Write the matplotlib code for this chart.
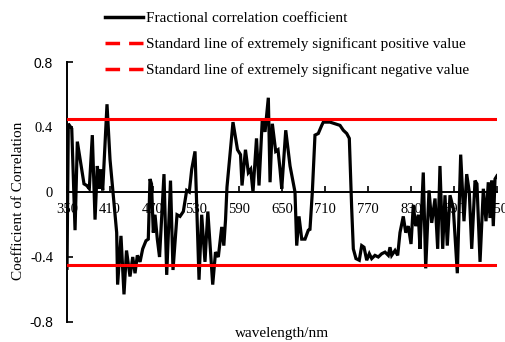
import matplotlib
matplotlib.use("Agg")
import matplotlib.pyplot as plt
from matplotlib.lines import Line2D

plt.rcParams['font.family'] = 'Liberation Serif'

# wavelength (nm) and fractional correlation coefficient
wavelength = [350, 351.8, 356.6, 361.2, 364.4, 373.7, 377.5, 381.1, 385.3, 389.1,
              392.3, 395.1, 397.0, 399.8, 405.8, 410, 414.2, 419.3, 420.6, 425.3,
              429.5, 433, 437.9, 441.7, 444.9, 448.1, 451.9, 455.6, 460.2, 463.4,
              465.8, 467.9, 470.4, 472.8, 476, 479.1, 485.3, 489.1, 494.4, 497.9,
              503.5, 507.7, 512.3, 517, 520.6, 524, 528.6, 534.2, 537.9, 542.5,
              546.5, 553.3, 557.2, 561.1, 565.9, 568.8, 571.2, 573.2, 581.6, 587.9,
              592.1, 594.2, 599, 603, 606.3, 609.5, 614.4, 617.9, 622.5, 626.3,
              630.9, 633.3, 636.5, 641.2, 644.4, 647.2, 649.6, 655.2, 661.2, 668.1,
              670.5, 673.7, 677.5, 682.1, 686.7, 689, 692.3, 696, 700.6, 705.4,
              707.6, 717, 723.9, 730.9, 735.5, 740.3, 743.9, 747.2, 749.5, 753.2,
              757.8, 761.2, 764.4, 768.2, 771.8, 775.1, 779.7, 784.3, 789.1, 793.7,
              798.3, 800.7, 803, 807.7, 811.4, 814.6, 819.2, 822.6, 826.2, 830,
              833.2, 836.5, 840.2, 842.5, 847.1, 850.5, 855.1, 858.9, 863.5, 867.2,
              870.4, 874.2, 877.4, 880.6, 884.4, 889, 894.6, 899.3, 903.9, 907.7,
              911.3, 914.7, 919.3, 922, 926.3, 930.9, 934.6, 937.8, 940.2, 942.6,
              944.8, 947.2, 950]
coef = [-0.47, 0.42, 0.39, -0.235, 0.31, 0.05, 0.04, 0.02, 0.35, -0.17,
        0.16, 0.02, 0.14, 0.01, 0.54, 0.2, 0.0, -0.25, -0.57, -0.27,
        -0.63, -0.36, -0.52, -0.40, -0.50, -0.39, -0.43, -0.35, -0.30, -0.29,
        0.08, 0.05, -0.25, -0.14, -0.29, -0.40, 0.11, -0.51, 0.07, -0.48,
        -0.14, -0.15, -0.12, 0.01, 0.0, 0.14, 0.25, -0.54, -0.14, -0.43,
        -0.12, -0.57, -0.37, -0.40, -0.215, -0.33, -0.17, 0.03, 0.43, 0.26,
        0.23, 0.04, 0.26, 0.12, 0.14, 0.0, 0.33, 0.04, 0.45, 0.37,
        0.58, 0.06, 0.42, 0.25, 0.26, 0.14, 0.02, 0.38, 0.16, 0.0,
        -0.33, -0.15, -0.29, -0.29, -0.235, -0.23, 0.0, 0.35, 0.36, 0.41,
        0.43, 0.43, 0.42, 0.41, 0.38, 0.36, 0.33, -0.10, -0.35, -0.41,
        -0.42, -0.33, -0.34, -0.42, -0.38, -0.41, -0.39, -0.40, -0.38, -0.37,
        -0.39, -0.34, -0.39, -0.36, -0.39, -0.25, -0.15, -0.25, -0.21, -0.32,
        -0.08, -0.21, -0.14, -0.35, 0.12, -0.47, 0.01, -0.19, -0.04, -0.35,
        0.16, -0.35, -0.02, -0.33, -0.02, -0.10, -0.50, 0.23, -0.18, 0.11,
        0.0, -0.35, 0.07, 0.05, -0.43, 0.02, -0.18, 0.06, -0.16, 0.07,
        -0.21, 0.08, 0.10]

# standard lines (extremely significant)
pos_line = 0.447
neg_line = -0.447

xticks = [350, 410, 470, 530, 590, 650, 710, 770, 830, 890, 950]
yticks = [-0.8, -0.4, 0, 0.4, 0.8]
ytick_labels = ['-0.8', '-0.4', '0', '0.4', '0.8']

fig = plt.figure(figsize=(5.05, 3.42), dpi=100)
ax = fig.add_axes([0.1327, 0.0585, 0.8515, 0.7602])

ax.plot([350, 950], [pos_line, pos_line], color='#ff0000', lw=2.2, zorder=3)
ax.plot([350, 950], [neg_line, neg_line], color='#ff0000', lw=2.2, zorder=3)
ax.plot(wavelength, coef, color='black', lw=2.3, solid_joinstyle='miter', zorder=2)

ax.set_xlim(350, 950)
ax.set_ylim(-0.8, 0.8)

# axes like the excel original
ax.spines['top'].set_visible(False)
ax.spines['right'].set_visible(False)
ax.spines['bottom'].set_position(('data', 0))
ax.spines['left'].set_linewidth(1.4)
ax.spines['bottom'].set_linewidth(1.4)

ax.set_xticks(xticks)
ax.set_xticklabels([str(t) for t in xticks])
ax.set_yticks(yticks)
ax.set_yticklabels(ytick_labels)
ax.tick_params(axis='x', direction='in', length=4, width=1.2, pad=8, labelsize=10.5)
ax.tick_params(axis='y', direction='in', length=4, width=1.2, pad=10, labelsize=10.5)
for lab in ax.get_yticklabels():
    if lab.get_text() in ('0.8', '-0.8'):
        lab.set_fontfamily('Liberation Sans')
        lab.set_fontsize(10)

fig.text(0.036, 0.412, 'Coefficient of Correlation', rotation=90,
         ha='center', va='center', fontsize=11)
fig.text(0.558, 0.026, 'wavelength/nm', ha='center', va='center', fontsize=11)

handles = [Line2D([], [], color='black', lw=2.5),
           Line2D([], [], color='#ff0000', lw=2.5, dashes=(4.2, 2.6)),
           Line2D([], [], color='#ff0000', lw=2.5, dashes=(4.2, 2.6))]
labels = ['Fractional correlation coefficient',
          'Standard line of extremely significant positive value',
          'Standard line of extremely significant negative value']
fig.legend(handles, labels, loc='upper left', bbox_to_anchor=(0.208, 0.967),
           frameon=False, fontsize=11, handlelength=2.5, handletextpad=0.15,
           labelspacing=0.8, borderpad=0, borderaxespad=0)

fig.savefig('out.png', dpi=100)
